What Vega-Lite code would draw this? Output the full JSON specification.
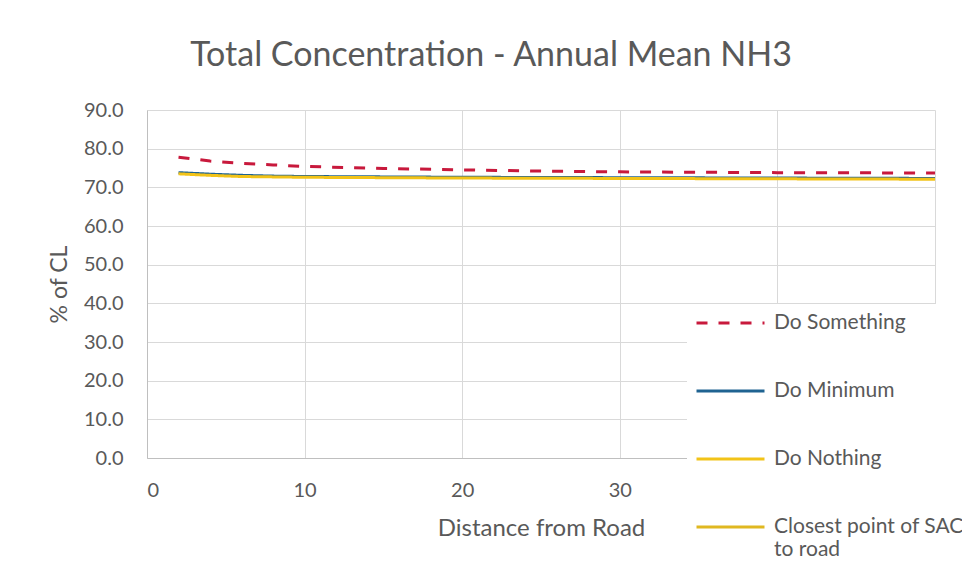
{
  "$schema": "https://vega.github.io/schema/vega-lite/v6.json",
  "width": 788,
  "height": 348,
  "autosize": {"type": "none"},
  "padding": {"left": 147, "top": 110, "right": 27, "bottom": 111},
  "background": "white",
  "title": {
    "text": "Total Concentration - Annual Mean NH3",
    "font": "Lato",
    "fontSize": 34,
    "fontWeight": "normal",
    "color": "#595959",
    "anchor": "middle",
    "dx": -50,
    "offset": 27
  },
  "data": {
    "values": [
      {"d": 2, "v": 77.8, "s": "Do Something"},
      {"d": 4, "v": 76.8, "s": "Do Something"},
      {"d": 6, "v": 76.2, "s": "Do Something"},
      {"d": 8, "v": 75.8, "s": "Do Something"},
      {"d": 10, "v": 75.4, "s": "Do Something"},
      {"d": 15, "v": 74.9, "s": "Do Something"},
      {"d": 20, "v": 74.5, "s": "Do Something"},
      {"d": 25, "v": 74.2, "s": "Do Something"},
      {"d": 30, "v": 74.0, "s": "Do Something"},
      {"d": 40, "v": 73.8, "s": "Do Something"},
      {"d": 50, "v": 73.7, "s": "Do Something"},
      {"d": 2, "v": 73.8, "s": "Do Minimum"},
      {"d": 4, "v": 73.4, "s": "Do Minimum"},
      {"d": 6, "v": 73.1, "s": "Do Minimum"},
      {"d": 8, "v": 72.9, "s": "Do Minimum"},
      {"d": 10, "v": 72.8, "s": "Do Minimum"},
      {"d": 15, "v": 72.7, "s": "Do Minimum"},
      {"d": 20, "v": 72.6, "s": "Do Minimum"},
      {"d": 30, "v": 72.5, "s": "Do Minimum"},
      {"d": 40, "v": 72.4, "s": "Do Minimum"},
      {"d": 50, "v": 72.3, "s": "Do Minimum"},
      {"d": 2, "v": 73.5, "s": "Do Nothing"},
      {"d": 4, "v": 73.1, "s": "Do Nothing"},
      {"d": 6, "v": 72.8, "s": "Do Nothing"},
      {"d": 8, "v": 72.7, "s": "Do Nothing"},
      {"d": 10, "v": 72.6, "s": "Do Nothing"},
      {"d": 15, "v": 72.5, "s": "Do Nothing"},
      {"d": 20, "v": 72.4, "s": "Do Nothing"},
      {"d": 30, "v": 72.3, "s": "Do Nothing"},
      {"d": 40, "v": 72.2, "s": "Do Nothing"},
      {"d": 50, "v": 72.1, "s": "Do Nothing"}
    ]
  },
  "mark": {"type": "line", "strokeWidth": 3, "clip": false},
  "encoding": {
    "x": {
      "field": "d",
      "type": "quantitative",
      "scale": {"domain": [0, 50], "nice": false},
      "axis": {
        "title": "Distance from Road",
        "values": [0, 10, 20, 30, 40, 50],
        "titleFont": "Lato",
        "titleFontSize": 24,
        "titleFontWeight": "normal",
        "titleColor": "#595959",
        "titlePadding": 16,
        "labelFont": "Lato",
        "labelFontSize": 20,
        "labelColor": "#595959",
        "labelPadding": 22,
        "ticks": false,
        "domainColor": "#bfbfbf",
        "gridColor": "#d9d9d9"
      }
    },
    "y": {
      "field": "v",
      "type": "quantitative",
      "scale": {"domain": [0, 90], "nice": false},
      "axis": {
        "title": "% of CL",
        "values": [0, 10, 20, 30, 40, 50, 60, 70, 80, 90],
        "format": ".1f",
        "titleFont": "Lato",
        "titleFontSize": 23,
        "titleFontWeight": "normal",
        "titleColor": "#595959",
        "titlePadding": 12,
        "labelFont": "Lato",
        "labelFontSize": 20,
        "labelColor": "#595959",
        "labelPadding": 24,
        "ticks": false,
        "domainColor": "#bfbfbf",
        "gridColor": "#d9d9d9"
      }
    },
    "color": {
      "field": "s",
      "type": "nominal",
      "scale": {
        "domain": ["Do Something", "Do Minimum", "Do Nothing", "Closest point of SAC to road"],
        "range": ["#C8193C", "#1F6391", "#F2C318", "#E0B820"]
      },
      "legend": {
        "title": null,
        "orient": "none",
        "legendX": 540,
        "legendY": 194,
        "fillColor": "white",
        "padding": 8,
        "symbolType": "stroke",
        "symbolSize": 4624,
        "symbolStrokeWidth": 3,
        "clipHeight": 22,
        "labelFont": "Lato",
        "labelFontSize": 21,
        "labelColor": "#595959",
        "labelLimit": 400,
        "labelOffset": 8,
        "rowPadding": 46,
        "labelExpr": "datum.label == 'Closest point of SAC to road' ? ['Closest point of SAC', 'to road'] : datum.label"
      }
    },
    "strokeDash": {
      "field": "s",
      "type": "nominal",
      "scale": {
        "domain": ["Do Something", "Do Minimum", "Do Nothing", "Closest point of SAC to road"],
        "range": [[11, 11], [1, 0], [1, 0], [1, 0]]
      }
    }
  },
  "config": {"view": {"stroke": null}}
}
